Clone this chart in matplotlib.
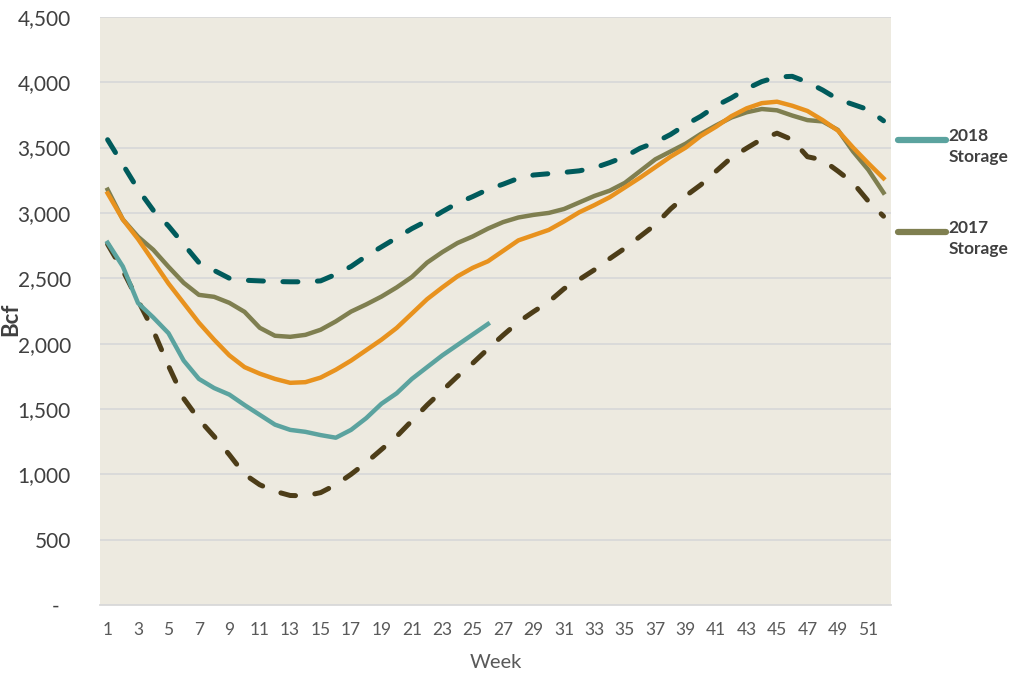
import matplotlib
matplotlib.use('Agg')
import matplotlib.pyplot as plt
from matplotlib.lines import Line2D

plt.rcParams['font.family'] = ['Lato', 'DejaVu Sans']

weeks = list(range(1, 53))

five_year_max = [3560, 3370, 3180, 3020, 2900, 2760, 2620, 2560, 2500, 2485,
                 2480, 2475, 2473, 2473, 2480, 2530, 2590, 2670, 2740, 2810,
                 2880, 2940, 3010, 3075, 3125, 3180, 3220, 3265, 3290, 3300,
                 3310, 3322, 3345, 3385, 3430, 3495, 3540, 3600, 3675, 3740,
                 3820, 3880, 3950, 4005, 4040, 4045, 4000, 3940, 3870, 3830,
                 3790, 3705]
five_year_min = [2760, 2560, 2330, 2100, 1830, 1580, 1420, 1290, 1150, 1000,
                 920, 870, 838, 835, 860, 920, 1000, 1090, 1190, 1290,
                 1410, 1530, 1640, 1750, 1850, 1960, 2065, 2165, 2245, 2320,
                 2420, 2490, 2565, 2650, 2730, 2820, 2910, 3030, 3130, 3216,
                 3320, 3423, 3495, 3565, 3610, 3560, 3430, 3405, 3320, 3230,
                 3090, 2975]
five_year_avg = [3150, 2950, 2800, 2630, 2460, 2310, 2160, 2030, 1910, 1820,
                 1770, 1730, 1700, 1705, 1740, 1800, 1870, 1950, 2030, 2120,
                 2230, 2340, 2430, 2515, 2580, 2630, 2710, 2790, 2830, 2870,
                 2935, 3005, 3060, 3120, 3195, 3270, 3350, 3430, 3500, 3590,
                 3660, 3740, 3800, 3840, 3851, 3820, 3780, 3710, 3630, 3500,
                 3380, 3265]
storage_2017 = [3178, 2950, 2818, 2718, 2588, 2465, 2373, 2358, 2312, 2243,
                2121, 2060, 2052, 2067, 2106, 2170, 2245, 2300, 2360, 2430,
                2510, 2620, 2700, 2770, 2820, 2880, 2930, 2965, 2985, 3000,
                3030, 3080, 3130, 3170, 3230, 3320, 3410, 3470, 3530, 3605,
                3670, 3730, 3770, 3795, 3785, 3745, 3710, 3700, 3635, 3470,
                3330, 3155]
storage_2018 = [2772, 2590, 2310, 2200, 2080, 1870, 1730, 1660, 1610, 1530,
                1455, 1380, 1340, 1325, 1300, 1280, 1340, 1430, 1540, 1620,
                1730, 1820, 1910, 1990, 2070, 2150]

y_ticks = [0, 500, 1000, 1500, 2000, 2500, 3000, 3500, 4000, 4500]
y_tick_labels = ['-  ', '500', '1,000', '1,500', '2,000', '2,500', '3,000',
                 '3,500', '4,000', '4,500']
x_ticks = list(range(1, 53, 2))

c_max = '#005B5C'
c_min = '#4D3D18'
c_avg = '#E8921E'
c_2017 = '#7F7F50'
c_2018 = '#5BA39F'
text_grey = '#404040'

fig = plt.figure(figsize=(10.29, 6.75), dpi=100)
ax = fig.add_axes([0.0972, 0.1037, 0.7688, 0.8713])
ax.set_facecolor('#EDEAE0')

dash_kw = dict(linewidth=3.6, dashes=(3.0, 3.9), dash_capstyle='round')
ax.plot(weeks, five_year_max, color=c_max, **dash_kw, zorder=3)
ax.plot(weeks, five_year_min, color=c_min, **dash_kw, zorder=3)
ax.plot(weeks, storage_2017, color=c_2017, linewidth=3.2, zorder=4)
ax.plot(weeks, five_year_avg, color=c_avg, linewidth=3.2, zorder=5)
ax.plot(weeks[:len(storage_2018)], storage_2018, color=c_2018, linewidth=3.2, zorder=6)

ax.set_xlim(0.5, 52.5)
ax.set_ylim(0, 4500)
ax.set_yticks(y_ticks)
ax.set_yticklabels(y_tick_labels)
ax.set_xticks(x_ticks)
ax.grid(axis='y', color='#D9D9D9', linewidth=1.3)
ax.set_axisbelow(True)
for side in ['top', 'right', 'left']:
    ax.spines[side].set_visible(False)
ax.spines['bottom'].set_color('#D9D9D9')
ax.spines['bottom'].set_linewidth(1.3)
ax.tick_params(axis='y', length=0, pad=21, labelsize=15, labelcolor=text_grey)
ax.tick_params(axis='x', length=0, pad=12, labelsize=12.5, labelcolor='#595959')

ax.set_ylabel('Bcf', fontsize=16, fontweight='bold', color=text_grey)
ax.yaxis.set_label_coords(-0.1, 0.485)
ax.set_xlabel('Week', fontsize=14.5, color='#595959', labelpad=12)

# legend on the right, only the two storage years
legend_items = [('2018\nStorage', c_2018, 0.792), ('2017\nStorage', c_2017, 0.656)]
for label, color, y in legend_items:
    fig.add_artist(Line2D([0.873, 0.919], [y, y], transform=fig.transFigure,
                          color=color, linewidth=4.5, solid_capstyle='round'))
    fig.text(0.922, y + 0.018, label, fontsize=12.5, fontweight='bold',
             color=text_grey, va='top', ha='left', linespacing=1.35)

fig.savefig('out.png', dpi=100)
